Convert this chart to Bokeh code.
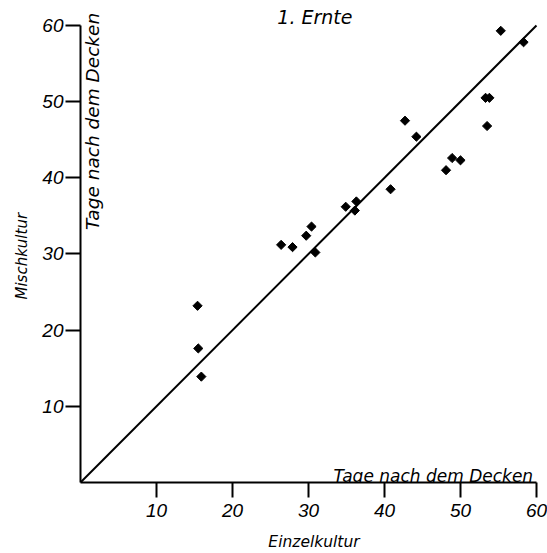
import math
from bokeh.plotting import figure
from bokeh.models import Range1d, FixedTicker, Label, Title
from bokeh.embed import file_html
from bokeh.resources import INLINE

# Data (days after covering): single culture vs mixed culture
einzel = [15.4, 15.5, 15.9, 26.4, 27.9, 29.7, 30.4, 30.9, 34.9, 36.3, 36.1,
          40.8, 42.7, 44.2, 48.9, 50.0, 48.1, 53.3, 53.8, 53.5, 55.3, 58.3]
misch = [23.2, 17.6, 13.9, 31.2, 30.9, 32.4, 33.6, 30.2, 36.2, 36.9, 35.7,
         38.5, 47.5, 45.4, 42.6, 42.3, 41.0, 50.5, 50.5, 46.8, 59.3, 57.8]
diag_x = [0, 60]
diag_y = [0, 60]
ticks = [10, 20, 30, 40, 50, 60]

title_text = "1. Ernte"
x_label = "Einzelkultur"
y_label = "Mischkultur"
unit_text = "Tage nach dem Decken"

word_font = "DejaVu Sans"
num_font = "Liberation Sans"

p = figure(width=547, height=553, output_backend="svg", toolbar_location=None,
           x_range=Range1d(0, 61.45), y_range=Range1d(0, 63.28),
           min_border_left=80, min_border_right=0, min_border_top=0,
           min_border_bottom=70)
p.outline_line_color = None
p.xgrid.visible = False
p.ygrid.visible = False
p.background_fill_color = "white"
p.border_fill_color = "white"

for ax in (p.xaxis[0], p.yaxis[0]):
    ax.bounds = (0, 60)
    ax.ticker = FixedTicker(ticks=ticks)
    ax.axis_line_width = 2
    ax.axis_line_color = "black"
    ax.major_tick_line_width = 2
    ax.major_tick_line_color = "black"
    ax.major_tick_out = 15
    ax.major_tick_in = 0
    ax.minor_tick_out = 0
    ax.minor_tick_in = 0
    ax.major_label_text_font = num_font
    ax.major_label_text_font_style = "italic"
    ax.major_label_text_font_size = "19px"
    ax.major_label_text_color = "black"
    ax.axis_label_text_font = word_font
    ax.axis_label_text_font_style = "italic"
    ax.axis_label_text_font_size = "15.5px"
    ax.axis_label_text_color = "black"

p.xaxis[0].axis_label = x_label
p.xaxis[0].major_label_standoff = 6
p.yaxis[0].major_label_standoff = 2
p.xaxis[0].axis_label_standoff = 13

p.add_layout(Title(text=y_label, align="left", offset=183, standoff=14,
                   vertical_align="top",
                   text_font=word_font, text_font_style="italic",
                   text_font_size="15px", text_color="black"), "left")

p.line(diag_x, diag_y, line_color="black", line_width=2)
p.scatter(einzel, misch, marker="square", angle=math.pi / 4, size=6.5,
          fill_color="black", line_color="black")

p.add_layout(Label(x=25.9, y=61.1, text=title_text, text_font=word_font,
                   text_font_style="italic", text_font_size="19px",
                   text_baseline="middle", text_align="left", text_color="black"))
p.add_layout(Label(x=33.3, y=0.8, text=unit_text, text_font=word_font,
                   text_font_style="italic", text_font_size="17px",
                   text_baseline="alphabetic", text_align="left", text_color="black"))
p.add_layout(Label(x=1.6, y=33.15, text=unit_text, text_font=word_font,
                   text_font_style="italic", text_font_size="18.5px",
                   text_baseline="middle", text_align="left", angle=math.pi / 2,
                   text_color="black"))

open("out.html", "w").write(file_html(p, INLINE))
